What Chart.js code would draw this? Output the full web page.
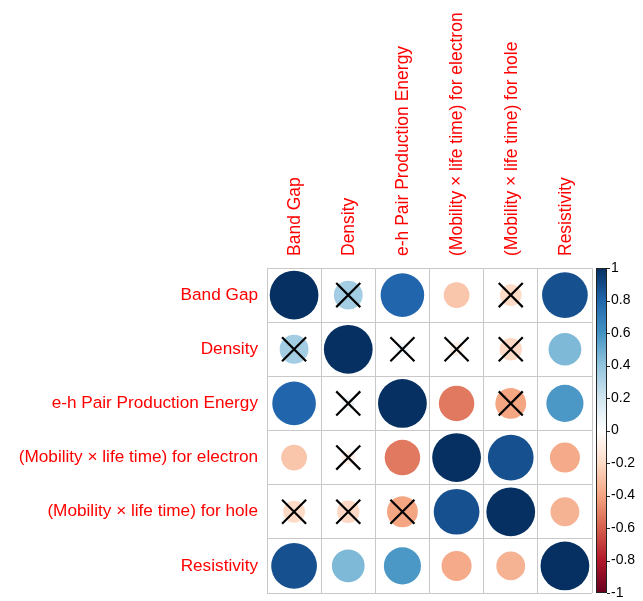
<!DOCTYPE html>
<html>
<head>
<meta charset="utf-8">
<script src="https://cdn.jsdelivr.net/npm/chart.js@4"></script>
<style>
  body { margin: 0; background: #fff; }
  #wrap { width: 643px; height: 601px; }
</style>
</head>
<body>
<div id="wrap"><canvas id="corrChart"></canvas></div>
<script>
// variable names (rows and columns)
const variables = [
  "Band Gap",
  "Density",
  "e-h Pair Production Energy",
  "(Mobility \u00d7 life time) for electron",
  "(Mobility \u00d7 life time) for hole",
  "Resistivity"
];

// correlation matrix, one row per variable
const corrBandGap     = [1.00,  0.35,  0.80, -0.28, -0.20,  0.88];
const corrDensity     = [0.35,  1.00,  0.07, -0.08, -0.21,  0.45];
const corrEhPair      = [0.80,  0.07,  1.00, -0.53, -0.40,  0.58];
const corrElectron    = [-0.28, -0.08, -0.53, 1.00,  0.88, -0.38];
const corrHole        = [-0.20, -0.21, -0.40, 0.88,  1.00, -0.35];
const corrResistivity = [0.88,  0.45,  0.58, -0.38, -0.35,  1.00];

// cells crossed out as not significant [row, col]
const insignificant = [
  [0, 1], [0, 4],
  [1, 0], [1, 2], [1, 3], [1, 4],
  [2, 1], [2, 4],
  [3, 1],
  [4, 0], [4, 1], [4, 2]
];

// colour bar tick labels
const barTicks = [1, 0.8, 0.6, 0.4, 0.2, 0, -0.2, -0.4, -0.6, -0.8, -1];

const corr = [corrBandGap, corrDensity, corrEhPair, corrElectron, corrHole, corrResistivity];

// RdBu palette as used by corrplot
const rdbu = ["#67001F", "#B2182B", "#D6604D", "#F4A582", "#FDDBC7", "#FFFFFF",
              "#D1E5F0", "#92C5DE", "#4393C3", "#2166AC", "#053061"];

function hexToRgb(h) {
  return [parseInt(h.slice(1, 3), 16), parseInt(h.slice(3, 5), 16), parseInt(h.slice(5, 7), 16)];
}

function colorFor(v) {
  const t = (v + 1) / 2 * (rdbu.length - 1);
  const i = Math.min(Math.floor(t), rdbu.length - 2);
  const f = t - i;
  const a = hexToRgb(rdbu[i]), b = hexToRgb(rdbu[i + 1]);
  const c = a.map((x, k) => Math.round(x + (b[k] - x) * f));
  return `rgb(${c[0]},${c[1]},${c[2]})`;
}

const circlePoints = [];
corr.forEach((row, r) => {
  row.forEach((v, c) => {
    circlePoints.push({ x: c + 1, y: r + 1, v: v });
  });
});

const crossPoints = insignificant.map(([r, c]) => ({ x: c + 1, y: r + 1 }));

function cellSize(chart) {
  const ca = chart.chartArea;
  if (!ca) return 50;
  return (ca.right - ca.left) / variables.length;
}

const fontFamily = "'Liberation Sans', Arial, sans-serif";

// draws the colour legend next to the right scale
const colorBarPlugin = {
  id: 'colorBar',
  afterDraw(chart) {
    const ctx = chart.ctx;
    const s = chart.scales.bar;
    const left = chart.chartArea.right + 4;
    const w = 11;
    const top = s.getPixelForValue(1);
    const bottom = s.getPixelForValue(-1);
    const grad = ctx.createLinearGradient(0, bottom, 0, top);
    rdbu.forEach((c, i) => grad.addColorStop(i / (rdbu.length - 1), c));
    ctx.save();
    ctx.fillStyle = grad;
    ctx.fillRect(left, top, w, bottom - top);
    ctx.strokeStyle = '#222';
    ctx.lineWidth = 1;
    ctx.strokeRect(left + 0.5, top + 0.5, w - 1, bottom - top - 1);
    ctx.beginPath();
    s.ticks.forEach(t => {
      const y = Math.round(s.getPixelForValue(t.value)) + 0.5;
      ctx.moveTo(left + w, y);
      ctx.lineTo(left + w + 3, y);
    });
    ctx.stroke();
    ctx.restore();
  }
};

new Chart(document.getElementById('corrChart'), {
  type: 'scatter',
  data: {
    datasets: [
      {
        label: 'insignificant',
        data: crossPoints,
        order: 0,
        pointStyle: 'crossRot',
        pointRadius: 17,
        pointBorderColor: '#000',
        pointBorderWidth: 2.2,
        pointBackgroundColor: '#000'
      },
      {
        label: 'correlation',
        data: circlePoints,
        order: 1,
        pointStyle: 'circle',
        pointRadius: ctx => 0.45 * Math.sqrt(Math.abs(ctx.raw.v)) * cellSize(ctx.chart),
        pointBackgroundColor: ctx => colorFor(ctx.raw.v),
        pointBorderColor: ctx => colorFor(ctx.raw.v),
        pointBorderWidth: 0
      }
    ]
  },
  options: {
    responsive: true,
    maintainAspectRatio: false,
    animation: false,
    layout: { autoPadding: false, padding: { top: 0, left: 0, right: 0, bottom: 8 } },
    plugins: {
      legend: { display: false },
      tooltip: { enabled: false }
    },
    scales: {
      x: {
        type: 'linear',
        position: 'top',
        min: 0.5,
        max: 6.5,
        afterFit: s => { s.height = 268; s.paddingLeft = 0; s.paddingRight = 0; },
        border: { display: false },
        grid: {
          drawTicks: false,
          color: ctx => (ctx.tick && ctx.tick.value % 1 !== 0) ? '#c8c8c8' : 'rgba(0,0,0,0)'
        },
        ticks: {
          stepSize: 0.5,
          autoSkip: false,
          minRotation: 90,
          maxRotation: 90,
          padding: 12,
          labelOffset: 22,
          color: '#ff0000',
          font: { family: fontFamily, size: 17.5 },
          callback: v => (v % 1 === 0 ? variables[v - 1] : '')
        }
      },
      y: {
        type: 'linear',
        position: 'left',
        reverse: true,
        min: 0.5,
        max: 6.5,
        afterFit: s => { s.width = 267; s.paddingTop = 0; s.paddingBottom = 0; },
        border: { display: false },
        grid: {
          drawTicks: false,
          color: ctx => (ctx.tick && ctx.tick.value % 1 !== 0) ? '#c8c8c8' : 'rgba(0,0,0,0)'
        },
        ticks: {
          stepSize: 0.5,
          autoSkip: false,
          padding: 9,
          color: '#ff0000',
          font: { family: fontFamily, size: 17.2 },
          callback: v => (v % 1 === 0 ? variables[v - 1] : '')
        }
      },
      bar: {
        type: 'linear',
        position: 'right',
        min: -1,
        max: 1,
        afterFit: s => { s.width = 51; s.paddingTop = 0; s.paddingBottom = 0; },
        afterBuildTicks: s => { s.ticks = barTicks.map(v => ({ value: v })); },
        border: { display: false },
        grid: { display: false, drawTicks: false },
        ticks: {
          padding: 19,
          color: '#000',
          font: { family: fontFamily, size: 14 },
          callback: v => String(Math.round(v * 10) / 10)
        }
      }
    }
  },
  plugins: [colorBarPlugin]
});
</script>
</body>
</html>
